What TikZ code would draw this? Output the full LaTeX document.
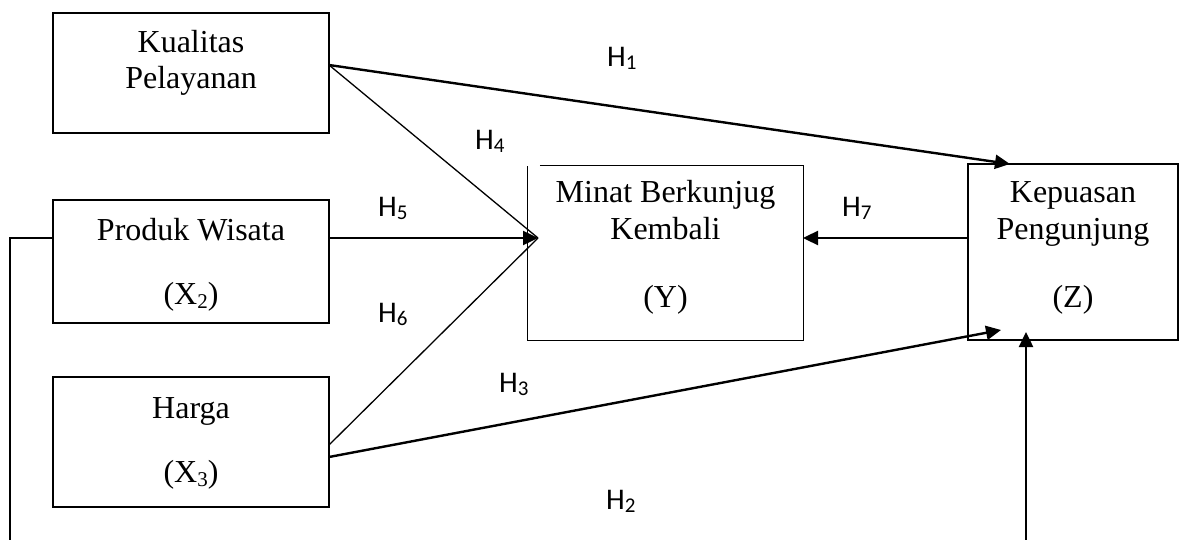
\documentclass[tikz,border=0pt]{standalone}
\usepackage{fontspec}
\setmainfont{Liberation Serif}
\newfontfamily\hfont{Carlito}
\usetikzlibrary{arrows.meta,calc}
\newcommand{\hsubx}[1]{\raisebox{-3pt}{\fontsize{21}{21}\selectfont #1}}
\newcommand{\xsubx}[1]{\raisebox{-4pt}{\fontsize{21}{21}\selectfont #1}}
\begin{document}
\begin{tikzpicture}[x=1pt,y=-1pt,
  box/.style={draw, line width=1.3pt, inner sep=0pt},
  nobox/.style={inner sep=0pt},
  btxt/.style={font=\fontsize{32}{36}\selectfont, anchor=base, inner sep=0pt},
  hlab/.style={font=\hfont\fontsize{30}{32}\selectfont, anchor=base west, inner sep=0pt},
  thick arrow/.style={line width=2.4pt, -{Triangle[length=15pt,width=14pt]}},
  thin line/.style={line width=1.3pt}]
\useasboundingbox (0,0) rectangle (1184,540);
% boxes
\node[box, minimum width=276pt, minimum height=120pt] (kp) at (191,73) {};
\node[box, minimum width=276pt, minimum height=123pt] (pw) at (191,261.5) {};
\node[box, minimum width=276pt, minimum height=130pt] (hg) at (191,442) {};
\node[nobox, minimum width=275pt, minimum height=174pt] (mi) at (665.5,253) {};
\draw[line width=1.3pt] ($(mi.north west)+(12,0)$) -- (mi.north east) -- (mi.south east) -- (mi.south west) -- (mi.north west);
\node[box, minimum width=210pt, minimum height=176pt] (ke) at (1073,252) {};
% box texts
\node[btxt] (t1) at (191,53) {Kualitas};
\node[btxt] (t2) at (191,89) {Pelayanan};
\node[btxt] (t3) at (191,241) {Produk Wisata};
\node[btxt] (t4) at (191,305) {(X\xsubx{2})};
\node[btxt] (t5) at (191,418) {Harga};
\node[btxt] (t6) at (191,482) {(X\xsubx{3})};
\node[btxt] (t7) at (665.5,203) {Minat Berkunjug};
\node[btxt] (t8) at (665.5,240) {Kembali};
\node[btxt] (t9) at (665.5,307) {(Y)};
\node[btxt] (t10) at (1073,203) {Kepuasan};
\node[btxt] (t11) at (1073,240) {Pengunjung};
\node[btxt] (t12) at (1073,307) {(Z)};
% connector points
\coordinate (kpo) at (329,65);
\coordinate (pwo) at (329,238);
\coordinate (pwl) at (53,238);
\coordinate (hgo6) at (329,445);
\coordinate (hgo3) at (329,457);
\coordinate (mip) at (538,238);
\coordinate (mir) at (803,238);
\coordinate (kel) at (968,238);
\coordinate (ket) at (1010,164);
\coordinate (keb) at (1001,330);
\coordinate (kebv) at (1026,332);
\coordinate (vbot) at (1026,540);
\coordinate (lc) at (10,238);
\coordinate (lbot) at (10,540);
% connectors
\draw[thick arrow] (kpo) -- (ket);
\draw[thin line] (kpo) -- (mip);
\draw[thick arrow] (pwo) -- (mip);
\draw[thin line] (hgo6) -- (mip);
\draw[thick arrow] (hgo3) -- (keb);
\draw[thick arrow] (kel) -- (mir);
\draw[thick arrow] (vbot) -- (kebv);
\draw[thin line] (pwl) -- (lc) -- (lbot);
% labels
\node[hlab] (h1) at (607,67) {H\hsubx{1}};
\node[hlab] (h4) at (475,150) {H\hsubx{4}};
\node[hlab] (h5) at (378,217) {H\hsubx{5}};
\node[hlab] (h7) at (842,217) {H\hsubx{7}};
\node[hlab] (h6) at (378,323) {H\hsubx{6}};
\node[hlab] (h3) at (499,392) {H\hsubx{3}};
\node[hlab] (h2) at (606,509) {H\hsubx{2}};
\end{tikzpicture}
\end{document}
